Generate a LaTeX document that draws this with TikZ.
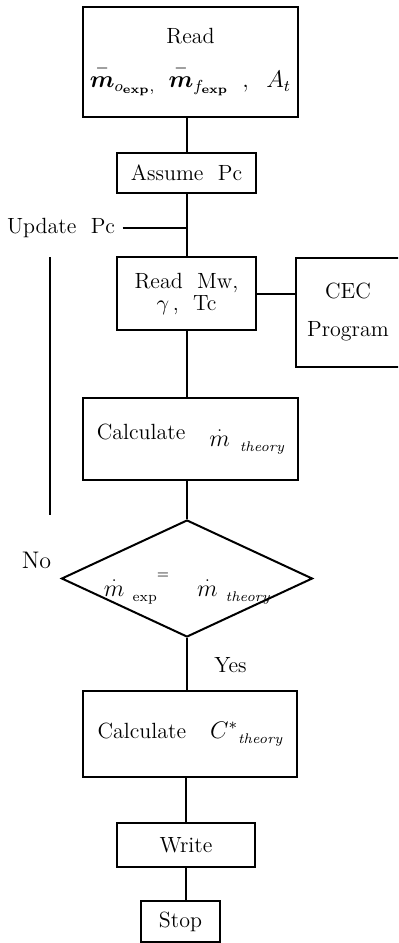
\documentclass[tikz,border=0pt]{standalone}
\usepackage{tikz}
\usetikzlibrary{shapes.geometric}
\usepackage{amssymb}
\usepackage{amsmath}
\usepackage{bm}
\newcommand{\mdot}{{\large$\overset{.}{m}$}}
\newcommand{\lowsub}[1]{\raisebox{-2.5pt}{\scriptsize #1}}

\begin{document}
\begin{tikzpicture}[x=0.5pt,y=-0.5pt,line width=1pt,
  font=\fontsize{11}{13}\selectfont,
  box/.style={draw,inner sep=0pt,align=center},
  decision/.style={draw,shape=diamond,inner sep=0pt,aspect=2.15}]
\clip (0,0) rectangle (398,943);
\node[box,minimum width=107.5pt,minimum height=55pt] (read) at (190.5,62)
  {Read\\[7pt] \large$\overset{-}{\bm{m}}_{o_{\mathbf{exp}},}\;\;\overset{-}{\bm{m}}_{f_{\mathbf{exp}}}\;\;,\;\;A_t$};
\node[box,minimum width=69.5pt,minimum height=20pt] (assume) at (186.5,173) {Assume~~Pc};
\node (upd) at (61,228) {Update~~Pc};
\node[box,minimum width=69.5pt,minimum height=36.5pt] (mw) at (186.5,293.5)
  {Read~~Mw,\\[-2pt]$\gamma$\,,~~Tc};
\node[box,minimum width=52pt,minimum height=54.5pt] (cec) at (348,312.5)
  {CEC\\[6pt]Program};
\node[box,minimum width=107.5pt,minimum height=41pt] (calc) at (190.5,439)
  {Calculate\hspace{12pt}\raisebox{-3.5pt}{\mdot\hspace{5pt}\lowsub{\itshape theory}}};
\node[decision,minimum width=125.5pt,minimum height=58.5pt] (dec) at (187,578.5)
  {\raisebox{-9pt}[0pt][0pt]{\mdot\hspace{4pt}\lowsub{exp}\raisebox{9pt}{\scriptsize =}\hspace{14pt}\mdot\hspace{4pt}\lowsub{\itshape theory}}};
\node (no) at (36.5,560) {\large No};
\node (yes) at (230.5,665) {Yes};
\node[box,minimum width=107pt,minimum height=43pt] (calcc) at (190,734)
  {Calculate\hspace{12pt}{\large$C^{*}$}\lowsub{\itshape theory}};
\node[box,minimum width=69pt,minimum height=22pt] (write) at (186,845) {Write};
\node[box,minimum width=39.5pt,minimum height=20.5pt] (stop) at (180.5,921.5) {Stop};
\coordinate (looptop) at (50,257);
\coordinate (loopbot) at (50,515);
\draw (read.south -| assume.north) -- (assume.north);
\draw (assume.south) -- (mw.north);
\draw (upd.east) -- (upd.east -| assume.south);
\draw (mw.east) -- (mw.east -| cec.west);
\draw (mw.south) -- (mw.south |- calc.north);
\draw (calc.south -| dec.north) -- (dec.north);
\draw (dec.south) -- (dec.south |- calcc.north);
\draw (calcc.south -| write.north) -- (write.north);
\draw (write.south) -- (write.south |- stop.north);
\draw (looptop) -- (loopbot);
\end{tikzpicture}
\end{document}
